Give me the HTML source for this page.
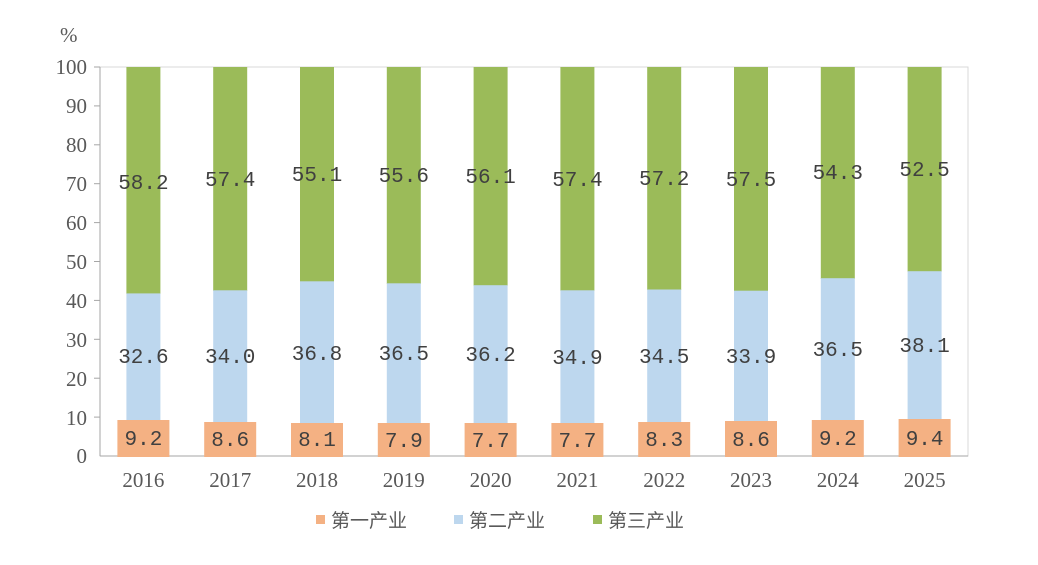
<!DOCTYPE html>
<html><head><meta charset="utf-8"><style>
body{margin:0;background:#fff}
svg{display:block}
.ax{font-family:"Liberation Serif",serif;font-size:21px;fill:#595959}
.v{font-family:"Liberation Mono","Noto Sans CJK SC",monospace;font-size:21px;fill:#404040;text-anchor:middle}
.lg{font-family:"Liberation Sans","Noto Sans CJK SC",sans-serif;font-size:19px;fill:#595959}
</style></head><body>
<svg width="1038" height="565" viewBox="0 0 1038 565">
<text class="ax" x="60" y="42">%</text>
<rect x="100" y="67" width="868" height="389" fill="none" stroke="#d9d9d9"/>
<g stroke="#a6a6a6"><line x1="100" y1="67" x2="100" y2="456"/><line x1="100" y1="456" x2="968" y2="456"/>
<line x1="94" y1="67" x2="100" y2="67"/><line x1="94" y1="105.9" x2="100" y2="105.9"/><line x1="94" y1="144.8" x2="100" y2="144.8"/><line x1="94" y1="183.7" x2="100" y2="183.7"/><line x1="94" y1="222.6" x2="100" y2="222.6"/><line x1="94" y1="261.5" x2="100" y2="261.5"/><line x1="94" y1="300.4" x2="100" y2="300.4"/><line x1="94" y1="339.3" x2="100" y2="339.3"/><line x1="94" y1="378.2" x2="100" y2="378.2"/><line x1="94" y1="417.1" x2="100" y2="417.1"/></g>
<g class="ax" text-anchor="end">
<text x="87" y="74">100</text><text x="87" y="113">90</text><text x="87" y="152">80</text><text x="87" y="191">70</text><text x="87" y="230">60</text><text x="87" y="269">50</text><text x="87" y="308">40</text><text x="87" y="347">30</text><text x="87" y="386">20</text><text x="87" y="425">10</text><text x="87" y="463">0</text></g>
<g fill="#9bbb59">
<rect x="126.4" y="67" width="34" height="227"/><rect x="213.2" y="67" width="34" height="224"/><rect x="300" y="67" width="34" height="215"/><rect x="386.8" y="67" width="34" height="217"/><rect x="473.6" y="67" width="34" height="219"/><rect x="560.4" y="67" width="34" height="224"/><rect x="647.2" y="67" width="34" height="223"/><rect x="734" y="67" width="34" height="224"/><rect x="820.8" y="67" width="34" height="212"/><rect x="907.6" y="67" width="34" height="205"/></g>
<g fill="#bdd7ee">
<rect x="126.4" y="293.4" width="34" height="163"/><rect x="213.2" y="290.3" width="34" height="166"/><rect x="300" y="281.3" width="34" height="175"/><rect x="386.8" y="283.3" width="34" height="173"/><rect x="473.6" y="285.2" width="34" height="171"/><rect x="560.4" y="290.3" width="34" height="166"/><rect x="647.2" y="289.5" width="34" height="167"/><rect x="734" y="290.7" width="34" height="166"/><rect x="820.8" y="278.2" width="34" height="178"/><rect x="907.6" y="271.2" width="34" height="185"/></g>
<g fill="#f4b183">
<rect x="117.4" y="420" width="52" height="37"/><rect x="204.2" y="422" width="52" height="35"/><rect x="291" y="423" width="52" height="34"/><rect x="377.8" y="423" width="52" height="34"/><rect x="464.6" y="423" width="52" height="34"/><rect x="551.4" y="423" width="52" height="34"/><rect x="638.2" y="422" width="52" height="35"/><rect x="725" y="421" width="52" height="36"/><rect x="811.8" y="420" width="52" height="37"/><rect x="898.6" y="419" width="52" height="38"/></g>
<g class="v">
<text x="143.4" y="189">58.2</text><text x="230.2" y="186">57.4</text><text x="317" y="181">55.1</text><text x="403.8" y="182">55.6</text><text x="490.6" y="183">56.1</text><text x="577.4" y="186">57.4</text><text x="664.2" y="185">57.2</text><text x="751" y="186">57.5</text><text x="837.8" y="179">54.3</text><text x="924.6" y="176">52.5</text>
<text x="143.4" y="363">32.6</text><text x="230.2" y="363">34.0</text><text x="317" y="360">36.8</text><text x="403.8" y="360">36.5</text><text x="490.6" y="361">36.2</text><text x="577.4" y="364">34.9</text><text x="664.2" y="363">34.5</text><text x="751" y="363">33.9</text><text x="837.8" y="356">36.5</text><text x="924.6" y="352">38.1</text>
<text x="143.4" y="445">9.2</text><text x="230.2" y="446">8.6</text><text x="317" y="446">8.1</text><text x="403.8" y="447">7.9</text><text x="490.6" y="447">7.7</text><text x="577.4" y="447">7.7</text><text x="664.2" y="446">8.3</text><text x="751" y="446">8.6</text><text x="837.8" y="445">9.2</text><text x="924.6" y="445">9.4</text></g>
<g class="ax" text-anchor="middle">
<text x="143.4" y="487">2016</text><text x="230.2" y="487">2017</text><text x="317" y="487">2018</text><text x="403.8" y="487">2019</text><text x="490.6" y="487">2020</text><text x="577.4" y="487">2021</text><text x="664.2" y="487">2022</text><text x="751" y="487">2023</text><text x="837.8" y="487">2024</text><text x="924.6" y="487">2025</text></g>
<rect x="316" y="515" width="9" height="9" fill="#f4b183"/><text class="lg" x="331" y="527">第一产业</text>
<rect x="454" y="515" width="9" height="9" fill="#bdd7ee"/><text class="lg" x="469" y="527">第二产业</text>
<rect x="593" y="515" width="9" height="9" fill="#9bbb59"/><text class="lg" x="608" y="527">第三产业</text>
</svg>
</body></html>
